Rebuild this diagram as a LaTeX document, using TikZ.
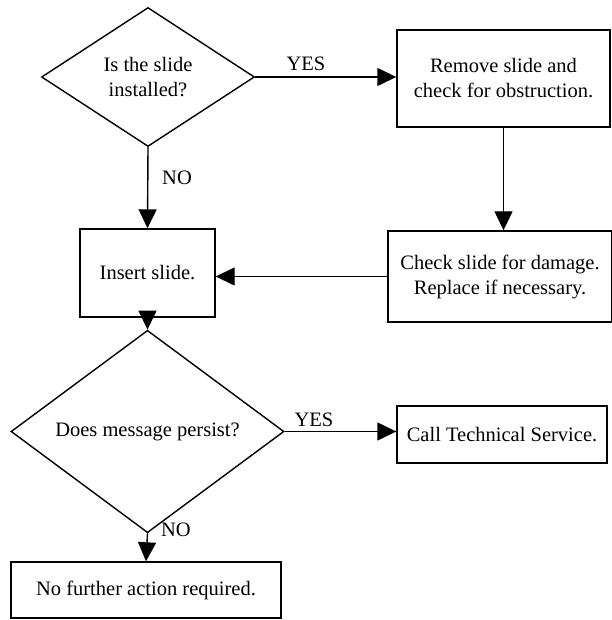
\documentclass[tikz,border=0pt]{standalone}
\usepackage{fontspec}
\setmainfont{Liberation Serif}
\usetikzlibrary{shapes.geometric,arrows.meta}
\begin{document}
\begin{tikzpicture}[x=1pt,y=-1pt,
  every node/.style={font=\fontsize{20.5}{25}\selectfont, align=center},
  boxnode/.style={draw, line width=1.4pt, rectangle, inner sep=0pt},
  decision/.style={draw, line width=1.4pt, diamond, inner sep=0pt},
  flow/.style={line width=1.4pt, -{Triangle[length=19pt,width=18pt]}},
  lbl/.style={inner sep=0pt}]
\useasboundingbox (0,0) rectangle (611,620);
\node[decision, minimum width=213pt, minimum height=139pt] (d1) at (148,77) {Is the slide\\installed?};
\node[boxnode, minimum width=213pt, minimum height=97pt] (rem) at (503.5,78.5) {Remove slide and\\check for obstruction.};
\node[boxnode, minimum width=135pt, minimum height=88pt] (ins) at (147.5,273) {Insert slide.};
\node[boxnode, minimum width=224pt, minimum height=91pt] (chk) at (500,276.5) {Check slide for damage.\\Replace if necessary.};
\node[decision, minimum width=273pt, minimum height=125pt] (d2) at (147.5,431.5) {Does message persist?};
\node[boxnode, minimum width=210pt, minimum height=57pt] (call) at (502,434.5) {Call Technical Service.};
\node[boxnode, minimum width=270pt, minimum height=56pt] (nf) at (146,590) {No further action required.};
\draw[flow] (d1.east) -- (d1.east -| rem.west);
\draw[flow] (d1.south) -- (ins.north);
\draw[flow] (rem.south) -- (rem.south |- chk.north);
\draw[flow] (chk.west) -- (chk.west -| ins.east);
\draw[flow] (ins.south) -- (d2.north);
\draw[flow] (d2.east) -- (d2.east -| call.west);
\draw[flow] (d2.south) -- (nf.north);
\node[lbl] (y1) at (306,64) {YES};
\node[lbl] (n1) at (177,178) {NO};
\node[lbl] (y2) at (314,420) {YES};
\node[lbl] (n2) at (176,530) {NO};
\end{tikzpicture}
\end{document}
